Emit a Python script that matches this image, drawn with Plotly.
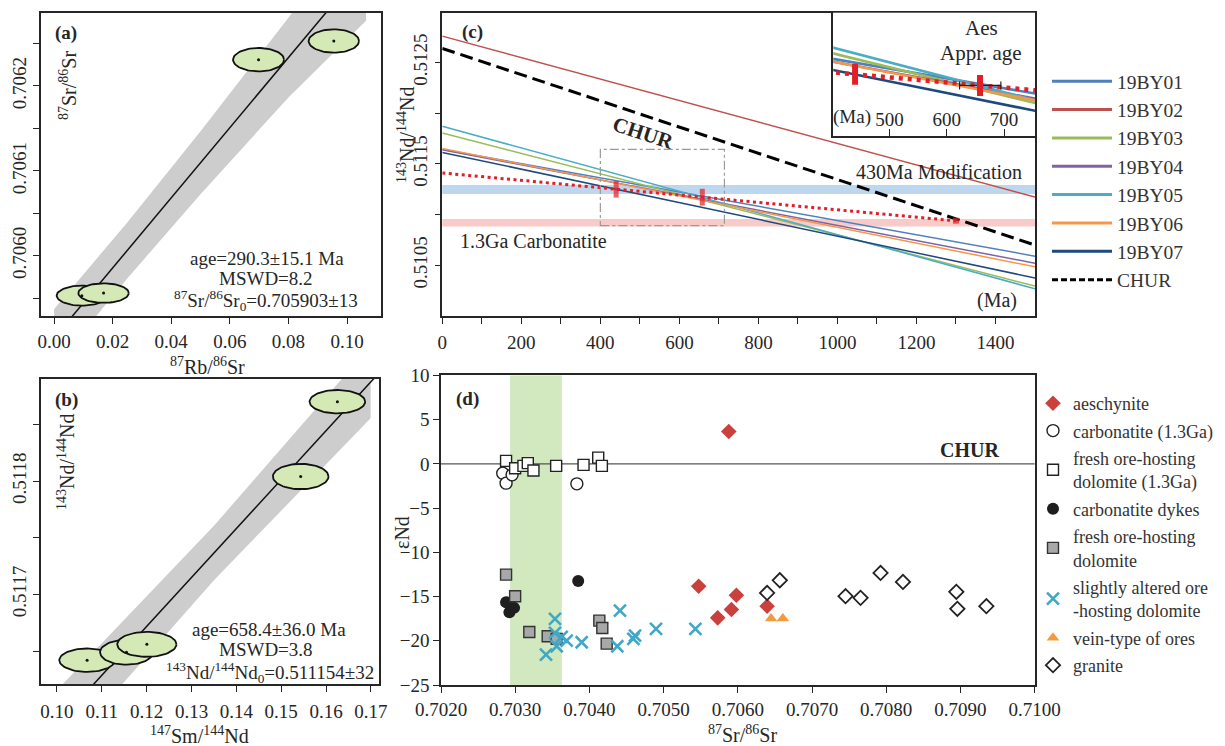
import numpy as np
import plotly.graph_objects as go

W, H = 1225, 746
FONT = "Liberation Serif, Times New Roman, serif"
INK = "#262626"
RED = "rgb(228,30,38)"

# ---------------- panel (a): Rb-Sr isochron ----------------
a_rb = [0.0095, 0.0169, 0.0698, 0.0955]
a_sr = [0.705953, 0.705956, 0.706231, 0.706253]
a_rb_err = [0.0086, 0.0086, 0.0087, 0.0086]
a_sr_err = [0.0000118, 0.0000115, 0.0000138, 0.0000138]
a_age_ma = 290.3
a_sr0 = 0.705903
a_line_x = [0.0, 0.12]
a_band_x = [0.0, 0.025, 0.05, 0.08, 0.1065]
a_band_half = [0.000034, 0.000033, 0.000037, 0.000047, 0.000066]
LAMBDA_RB = 1.42e-11

# ---------------- panel (b): Sm-Nd isochron ----------------
b_sm = [0.10672, 0.1155, 0.12004, 0.15434, 0.16252]
b_nd = [0.511642, 0.511649, 0.511656, 0.511804, 0.511870]
b_sm_err = [0.0062, 0.0059, 0.0066, 0.0062, 0.0062]
b_nd_err = [0.0000103, 0.000011, 0.000011, 0.0000112, 0.0000103]
b_age_ma = 658.4
b_nd0 = 0.511154
b_line_x = [0.09, 0.18]
b_band_x = [0.1, 0.135, 0.16993]
b_band_half = [0.000030, 0.000024, 0.000032]
LAMBDA_SM = 6.54e-12

# ---------------- panel (c): Nd evolution ----------------
c_t = [0, 1500]
c_names = ["19BY01", "19BY02", "19BY03", "19BY04", "19BY05", "19BY06", "19BY07"]
nd_19BY01 = [0.511642, 0.510590]
nd_19BY02 = [0.512759, 0.511172]
nd_19BY03 = [0.511804, 0.510295]
nd_19BY04 = [0.511640, 0.510520]
nd_19BY05 = [0.511870, 0.510268]
nd_19BY06 = [0.511652, 0.510485]
nd_19BY07 = [0.511612, 0.510375]
c_series = [nd_19BY01, nd_19BY02, nd_19BY03, nd_19BY04, nd_19BY05, nd_19BY06, nd_19BY07]
c_colors = ["#4f81bd", "#c0504d", "#9bbb59", "#8064a2", "#4bacc6", "#f79646", "#1f497d"]
chur_nd = [0.512638, 0.510699]
mod_t = [0, 1300]
mod_nd = [0.511410, 0.510938]
mod_pts_t = [440, 658, 1300]
mod_pts_nd = [0.511250, 0.511171, 0.510938]
blue_band = [0.511203, 0.511292]
pink_band = [0.510883, 0.510956]
zoom_box_t = [400, 714]
zoom_box_nd = [0.510891, 0.511643]
aes_age = 658.4
aes_err = 36.0

# ---------------- panel (d): eNd vs 87Sr/86Sr ----------------
aes_x = [0.705878, 0.705473, 0.705981, 0.705914, 0.705729, 0.706395]
aes_y = [3.65, -13.83, -14.85, -16.47, -17.41, -16.09]
carb13_x = [0.702832, 0.702877, 0.702958, 0.703831]
carb13_y = [-1.05, -2.18, -1.24, -2.26]
dol13_x = [0.702877, 0.702999, 0.703111, 0.703170, 0.703246, 0.703552, 0.703921, 0.704119, 0.704168]
dol13_y = [0.34, -0.49, -0.23, 0.08, -0.75, -0.23, -0.11, 0.71, -0.23]
dyke_x = [0.702877, 0.702922, 0.702985, 0.703849]
dyke_y = [-15.64, -16.77, -16.28, -13.23]
dol_x = [0.702877, 0.702999, 0.703190, 0.703438, 0.703559, 0.704134, 0.704174, 0.704233]
dol_y = [-12.52, -14.96, -19.00, -19.49, -19.79, -17.72, -18.55, -20.32]
alt_x = [0.703536, 0.703536, 0.703415, 0.703559, 0.703627, 0.703694, 0.703896,
         0.704412, 0.704376, 0.704592, 0.704615, 0.704898, 0.705428]
alt_y = [-17.53, -19.11, -21.56, -20.62, -19.56, -19.98, -20.17,
         -16.59, -20.62, -19.79, -19.41, -18.66, -18.65]
vein_x = [0.706449, 0.706607]
vein_y = [-17.48, -17.48]
gran_x = [0.706395, 0.706566, 0.707452, 0.707654, 0.707924, 0.708226, 0.708945, 0.708959, 0.709350]
gran_y = [-14.59, -13.16, -14.96, -15.15, -12.33, -13.35, -14.47, -16.39, -16.09]
green_band = [0.702931, 0.703628]
chur_eps = 0.0


def px(p):
    return p / W


def py(p):
    return 1 - p / H


fig = go.Figure()


def ellipses(xs, ys, rx, ry, xa, ya):
    th = np.linspace(0, 2 * np.pi, 73)
    for cx, cy, ex, ey in zip(xs, ys, rx, ry):
        fig.add_trace(go.Scatter(x=cx + ex * np.cos(th), y=cy + ey * np.sin(th), mode="lines",
                                 fill="toself", fillcolor="#d5e9b6", line=dict(color="#111", width=1.8),
                                 xaxis=xa, yaxis=ya, showlegend=False, hoverinfo="skip"))
    fig.add_trace(go.Scatter(x=xs, y=ys, mode="markers", marker=dict(color="#111", size=3),
                             xaxis=xa, yaxis=ya, showlegend=False))


def isochron(line_x, band_x, band_half, y0, age, lam, xa, ya):
    slope = np.exp(lam * age * 1e6) - 1
    bx = np.array(band_x)
    bh = np.array(band_half)
    up = y0 + slope * bx + bh
    lo = y0 + slope * bx - bh
    fig.add_trace(go.Scatter(x=np.concatenate([bx, bx[::-1]]), y=np.concatenate([up, lo[::-1]]),
                             mode="lines", fill="toself", fillcolor="#cdcdcd", line=dict(width=0),
                             xaxis=xa, yaxis=ya, showlegend=False, hoverinfo="skip"))
    lx = np.array(line_x)
    fig.add_trace(go.Scatter(x=lx, y=y0 + slope * lx, mode="lines", line=dict(color="#111", width=1.5),
                             xaxis=xa, yaxis=ya, showlegend=False))


# panel a
isochron(a_line_x, a_band_x, a_band_half, a_sr0, a_age_ma, LAMBDA_RB, "x", "y")
ellipses(a_rb, a_sr, a_rb_err, a_sr_err, "x", "y")
# panel b
isochron(b_line_x, b_band_x, b_band_half, b_nd0, b_age_ma, LAMBDA_SM, "x2", "y2")
ellipses(b_sm, b_nd, b_sm_err, b_nd_err, "x2", "y2")

# panel c main + inset
for name, nd, col in zip(c_names, c_series, c_colors):
    fig.add_trace(go.Scatter(x=c_t, y=nd, mode="lines", line=dict(color=col, width=1.5),
                             xaxis="x3", yaxis="y3", showlegend=False, legendgroup=name, name=name))
    fig.add_trace(go.Scatter(x=c_t, y=nd, mode="lines", line=dict(color=col, width=2.6),
                             xaxis="x5", yaxis="y5", showlegend=False, legendgroup=name, name=name))
fig.add_trace(go.Scatter(x=c_t, y=chur_nd, mode="lines", line=dict(color="#000", width=3, dash="13px,6px"),
                         xaxis="x3", yaxis="y3", showlegend=False, legendgroup="CHUR", name="CHUR"))
fig.add_trace(go.Scatter(x=mod_t, y=mod_nd, mode="lines", line=dict(color=RED, width=3, dash="3px,3.5px"),
                         xaxis="x3", yaxis="y3", showlegend=False))
fig.add_trace(go.Scatter(x=mod_pts_t, y=mod_pts_nd, mode="markers",
                         marker=dict(symbol=["line-ns", "line-ns", "square"], size=[12, 12, 6], color=RED,
                                     line=dict(color=RED, width=[5, 5, 0])),
                         xaxis="x3", yaxis="y3", showlegend=False))
fig.add_trace(go.Scatter(x=mod_t, y=mod_nd, mode="lines", line=dict(color=RED, width=4.5, dash="4px,5px"),
                         xaxis="x5", yaxis="y5", showlegend=False))
fig.add_trace(go.Scatter(x=[aes_age], y=[mod_pts_nd[1]], mode="markers",
                         marker=dict(size=1, color="rgba(0,0,0,0)"),
                         error_x=dict(type="data", array=[aes_err], color="#222", thickness=1.2, width=4),
                         xaxis="x5", yaxis="y5", showlegend=False))
fig.add_trace(go.Scatter(x=mod_pts_t, y=mod_pts_nd, mode="markers",
                         marker=dict(symbol="line-ns", size=15, color=RED, line=dict(color=RED, width=6)),
                         xaxis="x5", yaxis="y5", showlegend=False))
# legend entries for (c)
for name, col in zip(c_names, c_colors):
    fig.add_trace(go.Scatter(x=[None], y=[None], mode="lines", line=dict(color=col, width=3),
                             name=name, legend="legend", legendgroup=name, xaxis="x3", yaxis="y3"))
fig.add_trace(go.Scatter(x=[None], y=[None], mode="lines", line=dict(color="#000", width=3, dash="6px,3px"),
                         name="CHUR", legend="legend", legendgroup="CHUR", xaxis="x3", yaxis="y3"))

# panel d
d_sets = [
    ("aeschynite", aes_x, aes_y, dict(symbol="diamond", size=12, color="#c9403d")),
    ("carbonatite (1.3Ga)", carb13_x, carb13_y, dict(symbol="circle", size=12, color="white",
                                                     line=dict(color="#222", width=1.4))),
    ("fresh ore-hosting<br>dolomite (1.3Ga)", dol13_x, dol13_y, dict(symbol="square", size=11, color="white",
                                                                     line=dict(color="#222", width=1.4))),
    ("carbonatite dykes", dyke_x, dyke_y, dict(symbol="circle", size=12, color="#1e1e1e")),
    ("fresh ore-hosting<br>dolomite", dol_x, dol_y, dict(symbol="square", size=11, color="#a8a8a8",
                                                         line=dict(color="#333", width=1.4))),
    ("slightly altered ore<br>-hosting dolomite", alt_x, alt_y, dict(symbol="x-thin", size=12,
                                                                     line=dict(color="#3fa8c8", width=2.6))),
    ("vein-type of ores", vein_x, vein_y, dict(symbol="triangle-up", size=11, color="#f39a3c")),
    ("granite", gran_x, gran_y, dict(symbol="diamond", size=11, color="white", line=dict(color="#222", width=1.8))),
]
for name, xs, ys, mk in d_sets:
    fig.add_trace(go.Scatter(x=xs, y=ys, mode="markers", marker=mk, name=name, legend="legend2",
                             legendgroup=name, xaxis="x4", yaxis="y4"))

# ---------------- axes ----------------
base = dict(showline=True, linecolor=INK, linewidth=1.6, mirror=True, ticks="outside", ticklen=6,
            tickwidth=1.3, tickcolor=INK, showgrid=False, zeroline=False, automargin=False,
            tickfont=dict(family=FONT, size=19, color=INK))

layout = dict(
    template="none",
    width=W, height=H, margin=dict(l=0, r=0, t=0, b=0, pad=0), paper_bgcolor="white", plot_bgcolor="white",
    font=dict(family=FONT, color=INK, size=19),
    xaxis=dict(base, domain=[px(41), px(381)], range=[-0.00445, 0.1116], anchor="y",
               tickvals=[0, 0.02, 0.04, 0.06, 0.08, 0.10], tickformat=".2f", ticklabelstandoff=1),
    yaxis=dict(base, domain=[py(316), py(13)], range=[0.705929, 0.706286], anchor="x",
               tickvals=[0.70595, 0.7060, 0.70605, 0.7061, 0.70615, 0.7062, 0.70625],
               ticktext=["", "0.7060", "", "0.7061", "", "0.7062", ""], tickangle=-90),
    xaxis2=dict(base, domain=[px(41), px(379)], range=[0.09644, 0.1718], anchor="y2",
                tickvals=[0.10, 0.11, 0.12, 0.13, 0.14, 0.15, 0.16, 0.17], tickformat=".2f", ticklabelstandoff=3),
    yaxis2=dict(base, domain=[py(684), py(379)], range=[0.511621, 0.51189], anchor="x2",
                tickvals=[0.51165, 0.5117, 0.51175, 0.5118, 0.51185],
                ticktext=["", "0.5117", "", "0.5118", ""], tickangle=-90),
    xaxis3=dict(base, domain=[px(442.3), px(1035)], range=[0, 1500], anchor="y3",
                tickvals=[0, 200, 400, 600, 800, 1000, 1200, 1400], ticklabelstandoff=2,
                minor=dict(tickvals=[100, 300, 500, 700, 900, 1100, 1300], ticks="outside", ticklen=6,
                           tickcolor=INK, tickwidth=1.3)),
    yaxis3=dict(base, domain=[py(316), py(12.7)], range=[0.51, 0.51299], anchor="x3",
                tickvals=[0.5105, 0.511, 0.5115, 0.512, 0.5125],
                ticktext=["0.5105", "", "0.5115", "", "0.5125"], tickangle=-90),
    xaxis4=dict(base, domain=[px(441), px(1034.6)], range=[0.702, 0.710], anchor="y4",
                tickvals=[0.702, 0.703, 0.704, 0.705, 0.706, 0.707, 0.708, 0.709, 0.710],
                tickformat=".4f"),
    yaxis4=dict(base, domain=[py(685), py(375.4)], range=[-25, 10], anchor="x4",
                tickvals=[-25, -20, -15, -10, -5, 0, 5, 10]),
    xaxis5=dict(showline=True, linecolor=INK, linewidth=1.6, mirror=False, showgrid=False, zeroline=False,
                automargin=False,
                domain=[px(833.3), px(1035)], range=[402, 754], anchor="y5", ticks="inside", ticklen=7,
                tickcolor=INK, tickwidth=1.3, tickvals=[500, 600, 700], ticklabelposition="inside",
                tickfont=dict(family=FONT, size=19, color=INK)),
    yaxis5=dict(showline=True, linecolor=INK, linewidth=1.6, mirror=False, showgrid=False, zeroline=False,
                automargin=False,
                domain=[py(136), py(12.7)], range=[0.51081, 0.51169], anchor="x5", showticklabels=False,
                ticks=""),
    legend=dict(x=px(1047), y=py(62), xanchor="left", yanchor="top", bgcolor="rgba(0,0,0,0)",
                font=dict(family=FONT, size=19.5, color="#333"), tracegroupgap=0, itemwidth=60),
    legend2=dict(x=px(1033), y=py(385), xanchor="left", yanchor="top", bgcolor="rgba(0,0,0,0)",
                 font=dict(family=FONT, size=18, color="#333"), tracegroupgap=1, itemwidth=30),
)

shapes = [
    dict(type="rect", xref="x3 domain", yref="y3", x0=0, x1=1, y0=blue_band[0], y1=blue_band[1],
         fillcolor="#bdd7ee", line=dict(width=0), layer="below"),
    dict(type="rect", xref="x3 domain", yref="y3", x0=0, x1=1, y0=pink_band[0], y1=pink_band[1],
         fillcolor="#f8caca", line=dict(width=0), layer="below"),
    dict(type="rect", xref="x3", yref="y3", x0=zoom_box_t[0], x1=zoom_box_t[1], y0=zoom_box_nd[0],
         y1=zoom_box_nd[1], line=dict(color="#9a9a9a", width=1.2, dash="dashdot"), layer="above"),
    dict(type="rect", xref="x5", yref="y5 domain", x0=aes_age - aes_err, x1=aes_age + aes_err, y0=0, y1=1,
         fillcolor="#fdf5a8", line=dict(width=0), layer="below"),
    dict(type="rect", xref="x4", yref="y4 domain", x0=green_band[0], x1=green_band[1], y0=0, y1=1,
         fillcolor="#d2e8bf", line=dict(width=0), layer="below"),
    dict(type="line", xref="x4 domain", yref="y4", x0=0, x1=1, y0=chur_eps, y1=chur_eps,
         line=dict(color="#555", width=1.3), layer="below"),
]
layout["shapes"] = shapes


def ann(text, x, y, size=19, bold=False, angle=0, xanchor="center", color=INK):
    if bold:
        text = "<b>" + text + "</b>"
    return dict(text=text, x=px(x), y=py(y), xref="paper", yref="paper", showarrow=False,
                font=dict(family=FONT, size=size, color=color), textangle=angle,
                xanchor=xanchor, yanchor="middle")


annotations = [
    ann("(a)", 66, 33, 19, True),
    ann("(b)", 66, 400, 19, True),
    ann("(c)", 472, 32, 19, True),
    ann("(d)", 467, 399, 19, True),
    ann("<sup>87</sup>Sr/<sup>86</sup>Sr", 68, 86, 20, angle=-90),
    ann("<sup>143</sup>Nd/<sup>144</sup>Nd", 66, 462, 20, angle=-90),
    ann("<sup>143</sup>Nd/<sup>144</sup>Nd", 406, 135, 20, angle=-90),
    ann("εNd", 402, 533, 20, angle=-90),
    ann("<sup>87</sup>Rb/<sup>86</sup>Sr", 207, 366, 20),
    ann("<sup>147</sup>Sm/<sup>144</sup>Nd", 200, 735, 20),
    ann("<sup>87</sup>Sr/<sup>86</sup>Sr", 742, 734, 20),
    ann("age=290.3±15.1 Ma", 267, 258, 19),
    ann("MSWD=8.2", 266, 278, 19),
    ann("<sup>87</sup>Sr/<sup>86</sup>Sr<sub>0</sub>=0.705903±13", 266, 300, 19),
    ann("age=658.4±36.0 Ma", 269, 629, 19),
    ann("MSWD=3.8", 266, 649, 19),
    ann("<sup>143</sup>Nd/<sup>144</sup>Nd<sub>0</sub>=0.511154±32", 270, 672, 19),
    ann("CHUR", 643, 133, 21, True, angle=18),
    ann("430Ma Modification", 939, 172, 20),
    ann("1.3Ga Carbonatite", 533, 241, 20),
    ann("(Ma)", 997, 301, 20),
    ann("Aes", 981, 28, 21),
    ann("Appr. age", 981, 53, 21),
    ann("(Ma)", 852, 117, 19),
    ann("CHUR", 970, 450, 20, True),
]
layout["annotations"] = annotations
fig.update_layout(**layout)
fig.write_html("out.html")
